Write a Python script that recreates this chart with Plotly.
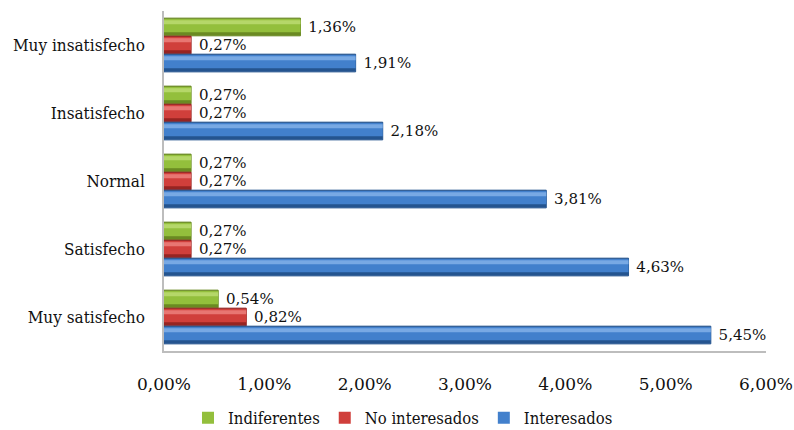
import plotly.graph_objects as go

# Satisfaction levels, listed top to bottom as drawn
categories = ["Muy insatisfecho", "Insatisfecho", "Normal", "Satisfecho", "Muy satisfecho"]

# Percent of respondents per group
indiferentes = [1.36, 0.27, 0.27, 0.27, 0.54]
no_interesados = [0.27, 0.27, 0.27, 0.27, 0.82]
interesados = [1.91, 2.18, 3.81, 4.63, 5.45]

x_ticks = [0, 1, 2, 3, 4, 5, 6]
x_tick_labels = [f"{v:.2f}%".replace(".", ",") for v in x_ticks]

SERIF = "DejaVu Serif"
SERIF_C = "DejaVu Serif Condensed"
ypos = list(range(len(categories)))
W = 0.26  # bar thickness in category units

# name, values, slot offset (top edge), colours: dark edge, body, highlight
series = [
    ("Indiferentes", indiferentes, -0.395, "#6a8a22", "#93bf3c", "#bedd74"),
    ("No interesados", no_interesados, -0.13, "#962422", "#d03f3b", "#ee8581"),
    ("Interesados", interesados, 0.135, "#24548f", "#4280cc", "#86b3ea"),
]

fig = go.Figure()
for name, vals, off, dark, body, light in series:
    # dark base: lower rim of the cylinder, carries the value labels
    fig.add_trace(go.Bar(
        y=ypos, x=vals, orientation="h", offset=off, width=W,
        marker=dict(color=dark, line=dict(color=dark, width=1)),
        text=[" " + f"{v:.2f}%".replace(".", ",") for v in vals],
        texttemplate="%{text}", textposition="outside",
        textfont=dict(family=SERIF, size=17, color="#111"),
        cliponaxis=False, showlegend=False, hoverinfo="skip",
    ))
    # main body
    fig.add_trace(go.Bar(
        y=ypos, x=vals, orientation="h", offset=off + 0.012, width=W - 0.065,
        marker=dict(color=body, line=dict(width=0)),
        name=name, showlegend=True, hoverinfo="x+name",
    ))
    # glossy highlight near the top edge
    fig.add_trace(go.Bar(
        y=ypos, x=vals, orientation="h", offset=off + 0.03, width=0.06,
        marker=dict(color=light, line=dict(width=0), opacity=0.8),
        showlegend=False, hoverinfo="skip",
    ))

fig.update_layout(
    width=794, height=430,
    margin=dict(l=164, r=28, t=11, b=79, autoexpand=False),
    paper_bgcolor="white", plot_bgcolor="white",
    barmode="overlay",
    font=dict(family=SERIF, size=15, color="#111"),
    legend=dict(
        orientation="h", x=0.397, xanchor="center", y=-0.197, yanchor="middle",
        font=dict(family=SERIF_C, size=16.5, color="#111"),
        traceorder="normal",
    ),
    showlegend=True,
)
fig.update_xaxes(
    range=[0, 6], tickvals=x_ticks, ticktext=x_tick_labels,
    showgrid=False, zeroline=False, automargin=False,
    showline=True, linecolor="#bdbdbd", linewidth=1.5,
    ticks="outside", ticklen=17, tickcolor="rgba(0,0,0,0)",
    tickfont=dict(family=SERIF, size=17, color="#111"),
)
fig.update_yaxes(
    range=[4.5, -0.5], tickvals=ypos, ticktext=categories,
    showgrid=False, zeroline=False, automargin=False,
    showline=True, linecolor="#bdbdbd", linewidth=1.5,
    ticks="outside", ticklen=14, tickcolor="rgba(0,0,0,0)",
    tickfont=dict(family=SERIF_C, size=17, color="#111"),
)

fig.write_html("out.html")
